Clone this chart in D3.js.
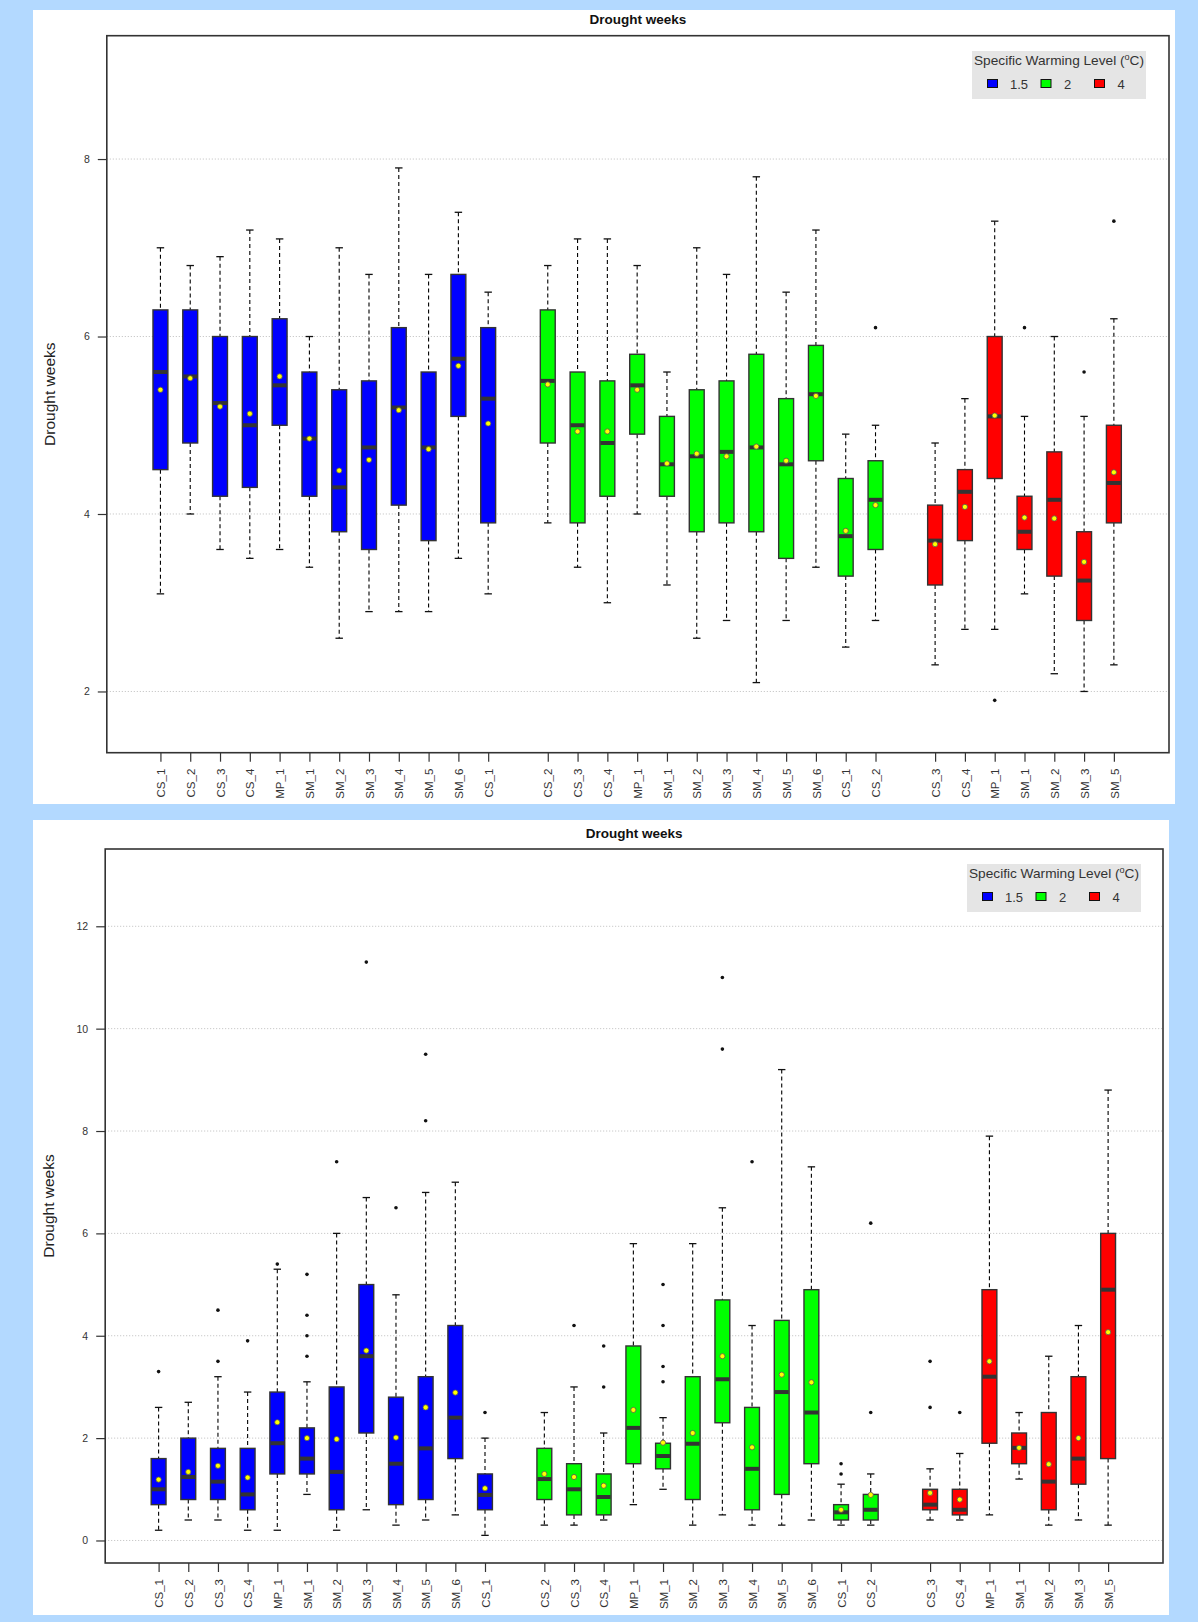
<!DOCTYPE html>
<html>
<head>
<meta charset="utf-8">
<script src="https://cdn.jsdelivr.net/npm/d3@7"></script>
<style>
  html, body { margin: 0; padding: 0; background: #b3d9ff; }
  svg { display: block; }
  text { font-family: "Liberation Sans", Arial, Helvetica, sans-serif; }
</style>
</head>
<body>
<svg id="chart" width="1198" height="1622"></svg>
<script>
// ---- categories -------------------------------------------------------
const boxLabels = [
  "CS_1","CS_2","CS_3","CS_4","MP_1","SM_1","SM_2","SM_3","SM_4","SM_5","SM_6","CS_1",
  "CS_2","CS_3","CS_4","MP_1","SM_1","SM_2","SM_3","SM_4","SM_5","SM_6","CS_1","CS_2",
  "CS_3","CS_4","MP_1","SM_1","SM_2","SM_3","SM_5"
];
// warming level group of each box (0 = 1.5, 1 = 2, 2 = 4 degC)
const boxLevel = [
  0,0,0,0,0,0,0,0,0,0,0,0,
  1,1,1,1,1,1,1,1,1,1,1,1,
  2,2,2,2,2,2,2
];
const levelNames = ["1.5", "2", "4"];
const levelColors = ["#0000ff", "#00ff00", "#ff0000"];

// ---- tick labels ------------------------------------------------------
const yTicksTop = [2, 4, 6, 8];
const yTicksBottom = [0, 2, 4, 6, 8, 10, 12];

// ---- upper panel: drought weeks statistics ---------------------------
const topLow  = [3.1,4.0,3.6,3.5,3.6,3.4,2.6,2.9,2.9,2.9,3.5,3.1, 3.9,3.4,3.0,4.0,3.2,2.6,2.8,2.1,2.8,3.4,2.5,2.8, 2.3,2.7,2.7,3.1,2.2,2.0,2.3];
const topQ1   = [4.5,4.8,4.2,4.3,5.0,4.2,3.8,3.6,4.1,3.7,5.1,3.9, 4.8,3.9,4.2,4.9,4.2,3.8,3.9,3.8,3.5,4.6,3.3,3.6, 3.2,3.7,4.4,3.6,3.3,2.8,3.9];
const topMed  = [5.6,5.55,5.25,5.0,5.45,4.85,4.3,4.75,5.2,4.75,5.75,5.3, 5.5,5.0,4.8,5.45,4.56,4.65,4.7,4.75,4.56,5.35,3.75,4.16, 3.7,4.25,5.1,3.8,4.16,3.25,4.35];
const topQ3   = [6.3,6.3,6.0,6.0,6.2,5.6,5.4,5.5,6.1,5.6,6.7,6.1, 6.3,5.6,5.5,5.8,5.1,5.4,5.5,5.8,5.3,5.9,4.4,4.6, 4.1,4.5,6.0,4.2,4.7,3.8,5.0];
const topHigh = [7.0,6.8,6.9,7.2,7.1,6.0,7.0,6.7,7.9,6.7,7.4,6.5, 6.8,7.1,7.1,6.8,5.6,7.0,6.7,7.8,6.5,7.2,4.9,5.0, 4.8,5.3,7.3,5.1,6.0,5.1,6.2];
const topMean = [5.40,5.53,5.21,5.13,5.55,4.85,4.49,4.61,5.17,4.73,5.67,5.02, 5.46,4.93,4.93,5.40,4.57,4.68,4.65,4.76,4.60,5.33,3.81,4.10, 3.66,4.08,5.11,3.96,3.95,3.46,4.47];
const topOut  = [[],[],[],[],[],[],[],[],[],[],[],[], [],[],[],[],[],[],[],[],[],[],[],[6.1], [],[],[1.9],[6.1],[],[5.6],[7.3]];

// ---- lower panel: drought weeks statistics ---------------------------
const botLow  = [0.2,0.4,0.4,0.2,0.2,0.9,0.2,0.6,0.3,0.4,0.5,0.1, 0.3,0.3,0.4,0.7,1.0,0.3,0.5,0.3,0.3,0.4,0.3,0.3, 0.4,0.4,0.5,1.2,0.3,0.4,0.3];
const botQ1   = [0.7,0.8,0.8,0.6,1.3,1.3,0.6,2.1,0.7,0.8,1.6,0.6, 0.8,0.5,0.5,1.5,1.4,0.8,2.3,0.6,0.9,1.5,0.4,0.4, 0.6,0.5,1.9,1.5,0.6,1.1,1.6];
const botMed  = [1.0,1.24,1.15,0.9,1.9,1.6,1.34,3.6,1.5,1.8,2.4,0.89, 1.2,1.0,0.85,2.2,1.65,1.89,3.15,1.4,2.9,2.5,0.55,0.6, 0.7,0.6,3.2,1.81,1.15,1.6,4.9];
const botQ3   = [1.6,2.0,1.8,1.8,2.9,2.2,3.0,5.0,2.8,3.2,4.2,1.3, 1.8,1.5,1.3,3.8,1.9,3.2,4.7,2.6,4.3,4.9,0.7,0.9, 1.0,1.0,4.9,2.1,2.5,3.2,6.0];
const botHigh = [2.6,2.7,3.2,2.9,5.3,3.1,6.0,6.7,4.8,6.8,7.0,2.0, 2.5,3.0,2.1,5.8,2.4,5.8,6.5,4.2,9.2,7.3,1.1,1.3, 1.4,1.7,7.9,2.5,3.6,4.2,8.8];
const botMean = [1.19,1.34,1.46,1.23,2.31,2.0,1.98,3.71,2.01,2.6,2.89,1.02, 1.30,1.24,1.07,2.55,1.91,2.10,3.60,1.82,3.24,3.09,0.60,0.89, 0.93,0.80,3.5,1.81,1.49,2.0,4.07];
const botOut  = [[3.3],[],[3.5,4.5],[3.9],[5.4],[3.6,4.0,4.4,5.2],[7.4],[11.3],[6.5],[8.2,9.5],[],[2.5],
                 [],[4.2],[3.0,3.8],[],[3.1,3.4,4.2,5.0],[],[9.6,11.0],[7.4],[],[],[1.3,1.5],[2.5,6.2],
                 [2.6,3.5],[2.5],[],[],[],[],[]];

// ---- drawing ----------------------------------------------------------
const svg = d3.select("#chart");
const slots = boxLabels.map((d, i) => i + boxLevel[i]);   // one empty slot between groups

function drawPanel(cfg, st) {
  const g = svg.append("g");

  // white panel
  g.append("rect")
    .attr("x", cfg.panel[0]).attr("y", cfg.panel[1])
    .attr("width", cfg.panel[2]).attr("height", cfg.panel[3])
    .attr("fill", "#ffffff");

  const x = d3.scaleLinear().domain([-1.8, 33.85]).range([cfg.left, cfg.right]);
  const y = d3.scaleLinear().domain(cfg.yDomain).range([cfg.bottom, cfg.top]);
  const step = x(1) - x(0);
  const bw = step * 0.5;
  const cap = bw * 0.5;

  // horizontal grid
  g.append("g").selectAll("line").data(cfg.ticks).join("line")
    .attr("x1", cfg.left).attr("x2", cfg.right)
    .attr("y1", d => y(d)).attr("y2", d => y(d))
    .attr("stroke", "#bdbdbd").attr("stroke-width", 1)
    .attr("stroke-dasharray", "1,2");

  // y axis
  const ya = g.append("g").attr("transform", `translate(${cfg.left},0)`)
    .call(d3.axisLeft(y).tickValues(cfg.ticks).tickSize(9).tickPadding(8).tickFormat(d3.format("d")));
  ya.select(".domain").remove();
  ya.selectAll("line").attr("stroke", "#333").attr("stroke-width", 1.2);
  ya.selectAll("text").attr("font-size", 10.5).attr("fill", "#333")
    .attr("font-family", "'Liberation Sans', Arial, sans-serif");

  // x axis
  const xa = g.append("g").attr("transform", `translate(0,${cfg.bottom})`)
    .call(d3.axisBottom(x).tickValues(slots).tickSize(9)
      .tickFormat(d => boxLabels[slots.indexOf(d)]));
  xa.select(".domain").remove();
  xa.selectAll("line").attr("stroke", "#333").attr("stroke-width", 1.2);
  xa.selectAll("text")
    .attr("font-size", 11.5).attr("fill", "#333")
    .attr("font-family", "'Liberation Sans', Arial, sans-serif")
    .attr("transform", "rotate(-90)")
    .attr("x", -16).attr("y", 0).attr("dy", "0.36em")
    .style("text-anchor", "end");

  const boxes = g.append("g").selectAll("g").data(boxLabels.map((d, i) => i)).join("g")
    .attr("transform", i => `translate(${x(slots[i])},0)`);

  // whiskers
  const dash = "4,3";
  boxes.append("line").attr("x1", 0).attr("x2", 0)
    .attr("y1", i => y(st.high[i])).attr("y2", i => y(st.q3[i]))
    .attr("stroke", "#000").attr("stroke-width", 1.1).attr("stroke-dasharray", dash);
  boxes.append("line").attr("x1", 0).attr("x2", 0)
    .attr("y1", i => y(st.q1[i])).attr("y2", i => y(st.low[i]))
    .attr("stroke", "#000").attr("stroke-width", 1.1).attr("stroke-dasharray", dash);
  boxes.append("line").attr("x1", -cap / 2).attr("x2", cap / 2)
    .attr("y1", i => y(st.high[i])).attr("y2", i => y(st.high[i]))
    .attr("stroke", "#111").attr("stroke-width", 1.3);
  boxes.append("line").attr("x1", -cap / 2).attr("x2", cap / 2)
    .attr("y1", i => y(st.low[i])).attr("y2", i => y(st.low[i]))
    .attr("stroke", "#111").attr("stroke-width", 1.3);

  // boxes
  boxes.append("rect")
    .attr("x", -bw / 2).attr("width", bw)
    .attr("y", i => y(st.q3[i]))
    .attr("height", i => y(st.q1[i]) - y(st.q3[i]))
    .attr("fill", i => levelColors[boxLevel[i]])
    .attr("stroke", "#333").attr("stroke-width", 1.4);

  // medians
  boxes.append("line").attr("x1", -bw / 2 + 0.5).attr("x2", bw / 2 - 0.5)
    .attr("y1", i => y(st.med[i])).attr("y2", i => y(st.med[i]))
    .attr("stroke", "#333").attr("stroke-width", 4);

  // outliers
  boxes.each(function (i) {
    d3.select(this).selectAll("circle.out").data(st.out[i]).join("circle")
      .attr("class", "out")
      .attr("cx", 0).attr("cy", v => y(v)).attr("r", 1.8)
      .attr("fill", "#111");
  });

  // means
  boxes.append("circle")
    .attr("cx", 0).attr("cy", i => y(st.mean[i])).attr("r", 2.6)
    .attr("fill", "#ffff00").attr("stroke", "#555").attr("stroke-width", 0.8);

  // plot frame
  g.append("rect")
    .attr("x", cfg.left).attr("y", cfg.top)
    .attr("width", cfg.right - cfg.left).attr("height", cfg.bottom - cfg.top)
    .attr("fill", "none").attr("stroke", "#333").attr("stroke-width", 1.6);

  // title
  g.append("text")
    .attr("x", (cfg.left + cfg.right) / 2).attr("y", cfg.titleY)
    .attr("text-anchor", "middle").attr("font-size", 13.5).attr("font-weight", "bold")
    .attr("fill", "#111").text("Drought weeks");

  // y axis title
  g.append("text")
    .attr("transform", `translate(${cfg.ylabX},${(cfg.top + cfg.bottom) / 2}) rotate(-90)`)
    .attr("text-anchor", "middle").attr("font-size", 15.5).attr("fill", "#222")
    .text("Drought weeks");

  // legend
  const lg = g.append("g").attr("transform", `translate(${cfg.legend[0]},${cfg.legend[1]})`);
  lg.append("rect").attr("width", 174).attr("height", 48).attr("fill", "#e5e5e5");
  const lt = lg.append("text").attr("x", 2).attr("y", 14).attr("font-size", 13.5).attr("fill", "#333")
    .attr("textLength", 170).attr("lengthAdjust", "spacingAndGlyphs");
  lt.append("tspan").text("Specific Warming Level (");
  lt.append("tspan").attr("dy", -5).attr("font-size", 9).text("o");
  lt.append("tspan").attr("dy", 5).text("C)");
  const itemX = [15.5, 69, 122.5];
  const labelX = [38, 92, 145.5];
  levelNames.forEach((name, k) => {
    lg.append("rect").attr("x", itemX[k]).attr("y", 28.5).attr("width", 10).attr("height", 8)
      .attr("fill", levelColors[k]).attr("stroke", "#111").attr("stroke-width", 1);
    lg.append("text").attr("x", labelX[k]).attr("y", 37.5).attr("font-size", 13)
      .attr("fill", "#333").text(name);
  });
}

drawPanel({
  panel: [33, 10, 1142, 794],
  left: 106.8, right: 1169, top: 35.7, bottom: 752.7,
  yDomain: [1.31, 9.39], ticks: yTicksTop,
  titleY: 24, ylabX: 55, legend: [972, 51]
}, { low: topLow, q1: topQ1, med: topMed, q3: topQ3, high: topHigh, mean: topMean, out: topOut });

drawPanel({
  panel: [33, 820, 1136, 795],
  left: 105.2, right: 1163, top: 849, bottom: 1563,
  yDomain: [-0.44, 13.51], ticks: yTicksBottom,
  titleY: 838, ylabX: 54, legend: [967, 864]
}, { low: botLow, q1: botQ1, med: botMed, q3: botQ3, high: botHigh, mean: botMean, out: botOut });
</script>
</body>
</html>
